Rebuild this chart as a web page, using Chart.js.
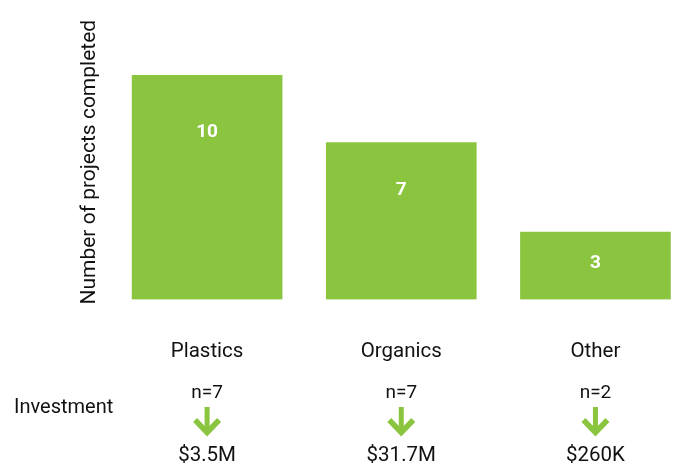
<!DOCTYPE html>
<html>
<head>
<meta charset="utf-8">
<script src="https://cdn.jsdelivr.net/npm/chart.js@4/dist/chart.umd.min.js"></script>
<style>
  html, body { margin: 0; padding: 0; background: #fff; }
  #wrap { width: 677px; height: 466px; }
</style>
</head>
<body>
<div id="wrap"><canvas id="projects"></canvas></div>
<script>
// projects completed per waste stream
const categories = ['Plastics', 'Organics', 'Other']
const completed = [10, 7, 3]
// investment breakdown shown under each stream
const investedCount = [7, 7, 2]
const investedAmount = ['$3.5M', '$31.7M', '$260K']

const GREEN = '#8bc53f'
const FONT = 'Roboto, "Liberation Sans", sans-serif'

// white counts inside the bars, dropped a little from each bar top
const barLabels = {
  id: 'barLabels',
  afterDatasetsDraw(chart, args, opts) {
    const ctx = chart.ctx
    const meta = chart.getDatasetMeta(0)
    ctx.save()
    ctx.fillStyle = '#fff'
    ctx.font = 'bold 19px ' + FONT
    ctx.textAlign = 'center'
    ctx.textBaseline = 'middle'
    meta.data.forEach((bar, i) => {
      ctx.fillText(String(completed[i]), bar.x, bar.y + opts.drop[i])
    })
    ctx.restore()
  }
}

// "Investment" row: n=, down arrow, dollar amount
const investmentRow = {
  id: 'investmentRow',
  afterDraw(chart) {
    const ctx = chart.ctx
    const x = chart.scales.x
    ctx.save()
    ctx.fillStyle = '#111'
    ctx.font = '20px ' + FONT
    ctx.textBaseline = 'alphabetic'
    ctx.textAlign = 'left'
    ctx.fillText('Investment', 14, 413)
    ctx.textAlign = 'center'
    categories.forEach((c, i) => {
      const cx = x.getPixelForValue(i)
      ctx.fillStyle = '#111'
      ctx.font = '19px ' + FONT
      ctx.fillText('n=' + investedCount[i], cx, 398)
      ctx.font = '20.5px ' + FONT
      ctx.fillText(investedAmount[i], cx, 461)

      // arrow
      ctx.fillStyle = GREEN
      ctx.fillRect(cx - 2.5, 407, 5, 24)
      ctx.strokeStyle = GREEN
      ctx.lineWidth = 5.5
      ctx.lineJoin = 'miter'
      ctx.lineCap = 'butt'
      ctx.beginPath()
      ctx.moveTo(cx - 12, 420)
      ctx.lineTo(cx, 432.5)
      ctx.lineTo(cx + 12, 420)
      ctx.stroke()
    })
    ctx.restore()
  }
}

new Chart(document.getElementById('projects'), {
  type: 'bar',
  data: {
    datasets: [{
      data: categories.map((c, i) => ({ x: i, y: completed[i] })),
      backgroundColor: GREEN,
      borderWidth: 0,
      barThickness: 150
    }]
  },
  options: {
    responsive: true,
    maintainAspectRatio: false,
    animation: false,
    layout: { padding: { left: 70, right: 0, top: 25, bottom: 102 } },
    plugins: {
      legend: { display: false },
      tooltip: { enabled: false },
      barLabels: { drop: [57, 48, 31] }
    },
    scales: {
      x: {
        type: 'linear',
        offset: false,
        min: -0.5,
        max: 2.42,
        // tick marks hidden, tickLength only pushes the labels down
        grid: { display: false, drawTicks: true, tickLength: 40 },
        border: { display: false },
        afterBuildTicks: s => { s.ticks = categories.map((c, i) => ({ value: i })) },
        ticks: {
          padding: 0,
          maxRotation: 0,
          color: '#111',
          font: { family: FONT, size: 20.5 },
          callback: v => categories[v]
        }
      },
      y: {
        min: 0,
        max: 12.25,
        grid: { display: false, drawTicks: false },
        border: { display: false },
        ticks: { display: false },
        title: {
          display: true,
          text: 'Number of projects completed',
          color: '#111',
          font: { family: FONT, size: 21 },
          padding: { top: 7.4, bottom: 7.4 }
        }
      }
    }
  },
  plugins: [barLabels, investmentRow]
})
</script>
</body>
</html>
